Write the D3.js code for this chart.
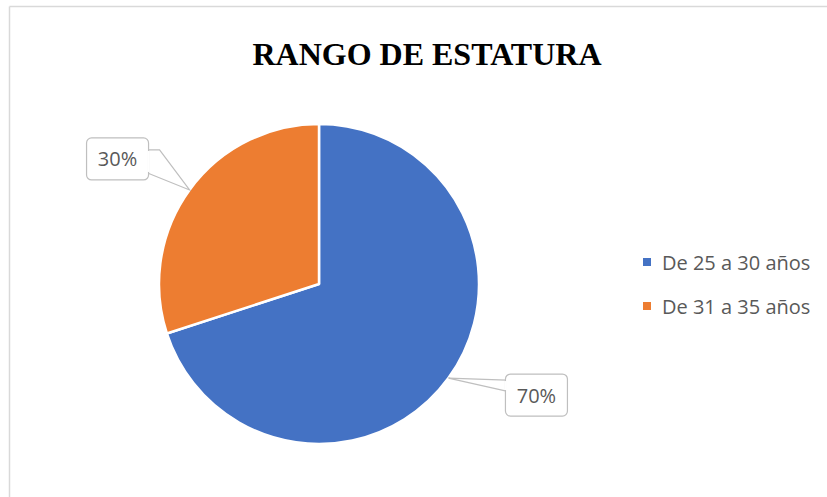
<!DOCTYPE html>
<html>
<head>
<meta charset="utf-8">
<script src="https://cdn.jsdelivr.net/npm/d3@7"></script>
<style>
  body { margin: 0; background: #fff; }
  svg { display: block; }
</style>
</head>
<body>
<svg id="chart" width="827" height="497"></svg>
<script>
// data
const categories = ["De 25 a 30 años", "De 31 a 35 años"];
const values = [70, 30];
const colors = ["#4472c4", "#ed7d31"];

const svg = d3.select("#chart");
const width = 827, height = 497;

// chart frame (only top and left edges are visible)
svg.append("line").attr("x1", 9.5).attr("y1", 6.5).attr("x2", width).attr("y2", 6.5)
    .attr("stroke", "#d9d9d9").attr("stroke-width", 1.5);
svg.append("line").attr("x1", 9.5).attr("y1", 6.5).attr("x2", 9.5).attr("y2", height)
    .attr("stroke", "#d9d9d9").attr("stroke-width", 1.5);

// title
svg.append("text")
    .attr("x", 427).attr("y", 65)
    .attr("text-anchor", "middle")
    .attr("font-family", "'Liberation Serif', 'Times New Roman', serif")
    .attr("font-weight", "bold")
    .attr("font-size", 32)
    .attr("fill", "#000")
    .text("RANGO DE ESTATURA");

const cx = 319, cy = 284, radius = 160;
const g = svg.append("g").attr("transform", `translate(${cx},${cy})`);

const pie = d3.pie().sort(null).value(d => d)(values);
const arc = d3.arc().innerRadius(0).outerRadius(radius);

g.selectAll("path.slice")
    .data(pie)
    .enter()
    .append("path")
    .attr("class", "slice")
    .attr("d", arc)
    .attr("fill", (d, i) => colors[i])
    .attr("stroke", "#fff")
    .attr("stroke-width", 2.5)
    .attr("stroke-linejoin", "round");

// callout labels: box offset from the point on the arc edge
const labelOffsets = [[88, 17], [-72, -31]];
const boxW = 62, boxH = 42;

pie.forEach((d, i) => {
    const mid = (d.startAngle + d.endAngle) / 2;
    const px = Math.sin(mid) * radius, py = -Math.cos(mid) * radius;
    const bx = px + labelOffsets[i][0], by = py + labelOffsets[i][1];
    const left = bx - boxW / 2, right = bx + boxW / 2;
    const top = by - boxH / 2, bottom = by + boxH / 2;
    const lg = g.append("g");

    // wedge pointing to slice
    let pts;
    if (px > 0) {
        pts = [[left + 1, top + 6], [px, py], [left + 1, top + 17]];
    } else {
        pts = [[right - 1, top + 12], [right + 11, top + 12], [px, py], [right - 1, top + 35]];
    }
    lg.append("path")
        .attr("d", d3.line()(pts))
        .attr("fill", "#fff")
        .attr("stroke", "#bfbfbf")
        .attr("stroke-width", 1.2);

    lg.append("rect")
        .attr("x", left).attr("y", top)
        .attr("width", boxW).attr("height", boxH)
        .attr("rx", 5)
        .attr("fill", "#fff")
        .attr("stroke", "#bfbfbf")
        .attr("stroke-width", 1.2);
    // hide the box edge where the wedge joins
    if (px > 0) {
        lg.append("line").attr("x1", left).attr("x2", left)
            .attr("y1", top + 7).attr("y2", top + 16)
            .attr("stroke", "#fff").attr("stroke-width", 2);
    } else {
        lg.append("line").attr("x1", right).attr("x2", right)
            .attr("y1", top + 13).attr("y2", top + 34)
            .attr("stroke", "#fff").attr("stroke-width", 2);
    }

    lg.append("text")
        .attr("x", bx).attr("y", by + 7.5)
        .attr("text-anchor", "middle")
        .attr("font-family", "'Open Sans', 'Liberation Sans', sans-serif")
        .attr("font-size", 20)
        .attr("fill", "#595959")
        .text(values[i] + "%");
});

// legend
const legend = svg.append("g").attr("transform", "translate(643,258)");
const items = legend.selectAll("g")
    .data(categories)
    .enter()
    .append("g")
    .attr("transform", (d, i) => `translate(0,${i * 44})`);
items.append("rect")
    .attr("width", 8).attr("height", 8)
    .attr("fill", (d, i) => colors[i]);
items.append("text")
    .attr("x", 19).attr("y", 11.5)
    .attr("font-family", "'Open Sans', 'Liberation Sans', sans-serif")
    .attr("font-size", 20)
    .attr("fill", "#595959")
    .text(d => d);
</script>
</body>
</html>
